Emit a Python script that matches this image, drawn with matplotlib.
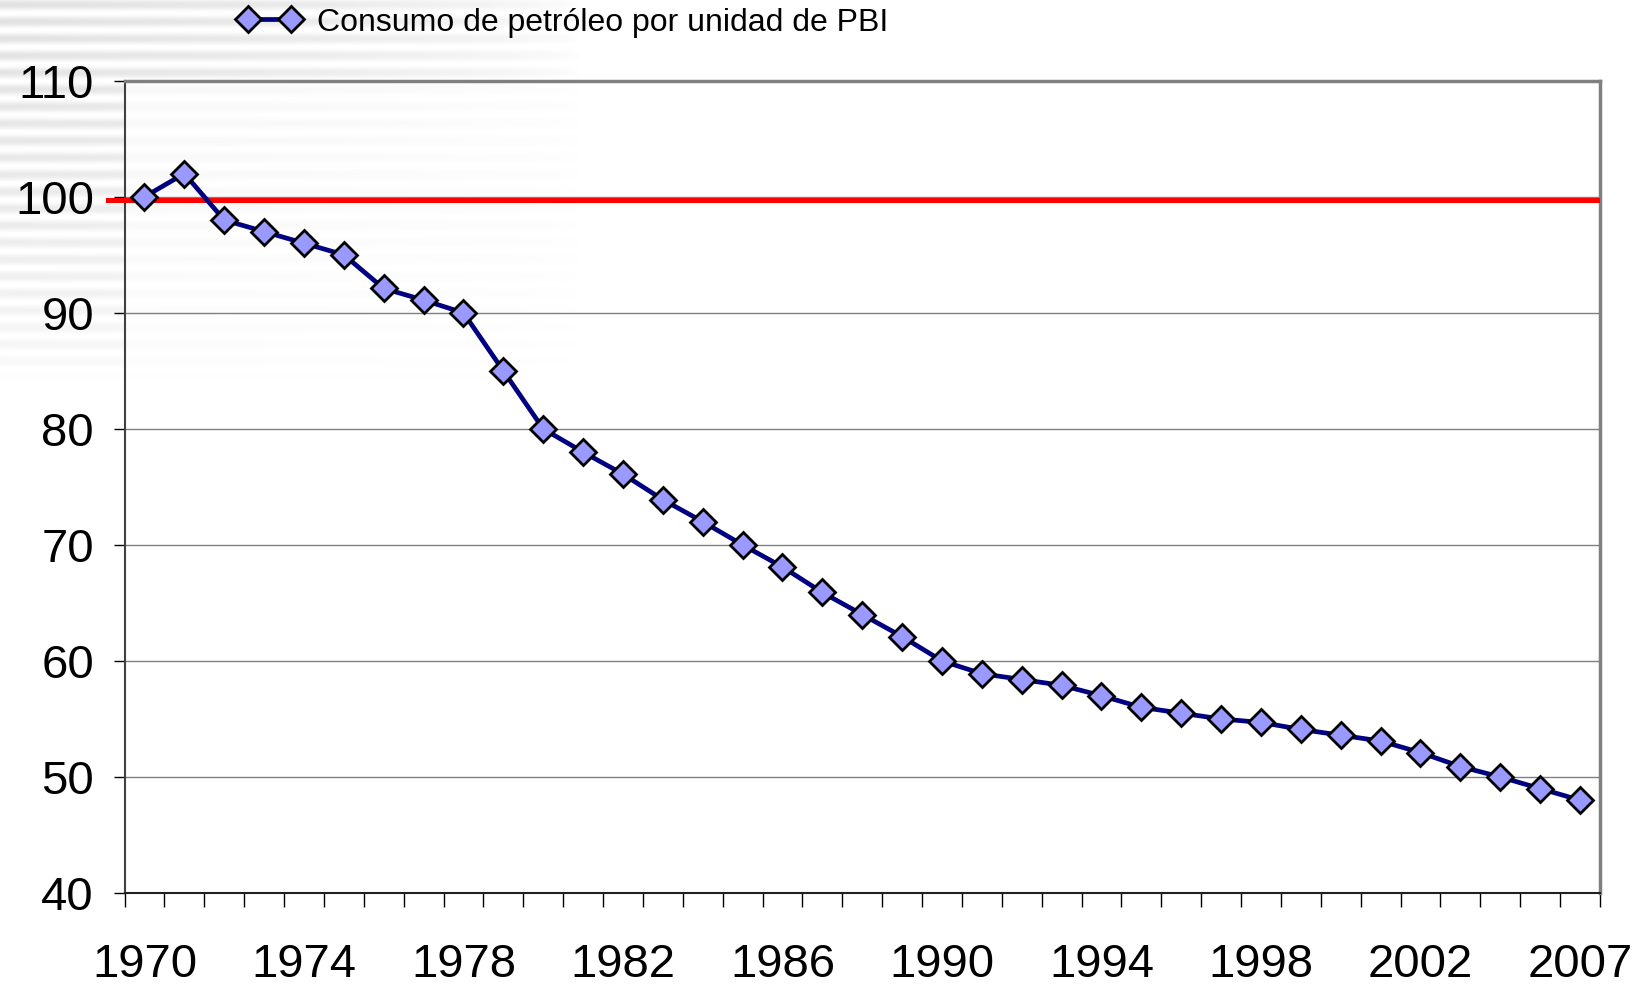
import numpy as np
import matplotlib.pyplot as plt

plt.rcParams['font.family'] = ['Liberation Sans', 'DejaVu Sans']

# datos (indice, 1970 = 100)
anios = list(range(1970, 2006)) + [2007]
consumo = [100, 102, 98, 97, 96, 95, 92.1, 91.1, 90, 85,
           80, 78, 76.1, 73.9, 72, 70, 68.1, 65.9, 64, 62.1,
           60, 58.9, 58.4, 57.9, 57, 56, 55.5, 55, 54.7, 54.1,
           53.6, 53.1, 52.1, 50.9, 50, 49, 48]
referencia = 100
etiqueta = 'Consumo de petróleo por unidad de PBI'

fig = plt.figure(figsize=(16.45, 9.85), dpi=100)

# fondo de la diapositiva: franjas grises que se desvanecen
bg = fig.add_axes([0, 0, 1, 1], zorder=-10)
h, w = 985, 1645
yy, xx = np.mgrid[0:h, 0:w]
franjas = 0.5 + 0.5 * np.sin(yy * 2 * np.pi / 17.0)
fade = np.clip(1 - xx / 580.0, 0, 1) * np.clip(1 - yy / 380.0, 0, 1)
img = 1 - 0.12 * franjas * fade ** 0.5
bg.imshow(img, cmap='gray', vmin=0, vmax=1, aspect='auto', interpolation='bilinear')
bg.axis('off')

ax = fig.add_axes([0.0757, 0.0934, 0.8969, 0.8246])
ax.set_facecolor((1, 1, 1, 0.7))

x = np.arange(len(anios))
line, = ax.plot(x, consumo, color='#000080', lw=3.4, marker='D', ms=13.5,
                mfc='#9999FF', mec='black', mew=2, zorder=5, label=etiqueta)
ax.axhline(referencia - 0.25, xmin=-0.011, xmax=0.998, color='#FF0000', lw=3.6,
           clip_on=False, zorder=4)

ax.set_xlim(-0.5, len(anios) - 0.5)
ax.set_ylim(40, 110)
ax.set_yticks(range(40, 111, 10))
ax.yaxis.grid(True, color='#808080', lw=1)
ax.set_axisbelow(True)

pos = list(range(0, len(anios), 4))
ax.set_xticks(pos)
ax.set_xticklabels([str(anios[i]) for i in pos])
ax.set_xticks(np.arange(-0.5, len(anios), 1), minor=True)
ax.tick_params(axis='x', which='major', length=0, pad=36, labelsize=34)
ax.tick_params(axis='x', which='minor', length=10, width=1, color='black')
ax.tick_params(axis='y', length=8, width=1, pad=14, labelsize=34, color='black')

ax.spines['left'].set_color('#404040')
ax.spines['left'].set_linewidth(1.5)
ax.spines['bottom'].set_color('#202020')
ax.spines['bottom'].set_linewidth(1.5)
ax.spines['top'].set_color('#808080')
ax.spines['top'].set_linewidth(2.5)
ax.spines['right'].set_color('#808080')
ax.spines['right'].set_linewidth(2.5)

fig.legend(handles=[line], loc='center left', bbox_to_anchor=(0.1447, 0.977),
           frameon=False, fontsize=23, numpoints=2, handlelength=1.95,
           handletextpad=0.53, borderpad=0, borderaxespad=0)

fig.savefig('out.png', dpi=100)
